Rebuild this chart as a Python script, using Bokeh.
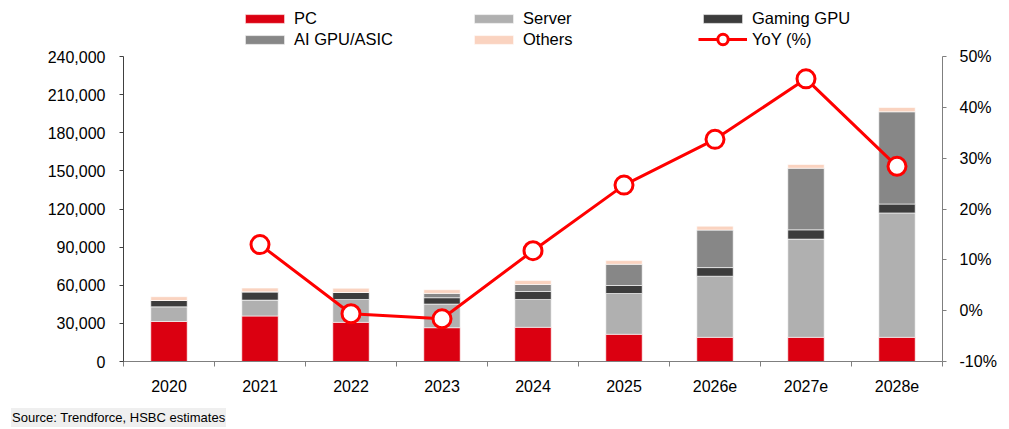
from bokeh.plotting import figure
from bokeh.layouts import column
from bokeh.models import (Range1d, LinearAxis, FixedTicker, PrintfTickFormatter,
                          NumeralTickFormatter, Legend, LegendItem, Div, ColumnDataSource)
from bokeh.embed import file_html
from bokeh.resources import INLINE

# ---- data ----
years = ["2020", "2021", "2022", "2023", "2024", "2025", "2026e", "2027e", "2028e"]
pc = [31500, 35800, 30800, 26600, 26900, 21400, 19000, 19000, 19000]
server = [11500, 12500, 18000, 18600, 21900, 32100, 48100, 77300, 97900]
gaming = [5000, 6500, 5500, 5000, 6300, 6300, 6800, 7300, 7000]
ai_gpu = [0, 0, 0, 3400, 5500, 16700, 29500, 48500, 72600]
others = [3000, 3000, 3400, 2900, 3100, 2900, 3100, 2900, 3400]
yoy = [None, 13.0, -0.6, -1.6, 11.8, 24.7, 33.7, 45.6, 28.4]
left_ticks = [0, 30000, 60000, 90000, 120000, 150000, 180000, 210000, 240000]
right_ticks = [-10, 0, 10, 20, 30, 40, 50]
source_note = "Source: Trendforce, HSBC estimates"

FONT = "Liberation Sans"
colors = ["#DB0011", "#B0B0B0", "#3C3C3C", "#878787", "#FAD3C0"]
names = ["PC", "Server", "Gaming GPU", "AI GPU/ASIC", "Others"]

# layout geometry (pixels)
W = 1005
FR_TOP, FR_BOT = 2, 361          # frame extends up to hold the legend
AX_TOP = 56                      # where the top tick sits
MAIN_H = 399

xpos = [i + 0.5 for i in range(len(years))]
src = ColumnDataSource(dict(x=xpos, pc=pc, server=server, gaming=gaming, ai=ai_gpu, others=others))

# extend ranges so the axes' top ticks sit at AX_TOP while the frame reaches FR_TOP
ext = (FR_BOT - FR_TOP) / (FR_BOT - AX_TOP)
y_end = left_ticks[0] + (left_ticks[-1] - left_ticks[0]) * ext
r_end = right_ticks[0] + (right_ticks[-1] - right_ticks[0]) * ext

p = figure(width=W, height=MAIN_H, output_backend="svg", toolbar_location=None,
           x_range=Range1d(0, len(years)), y_range=Range1d(left_ticks[0], y_end),
           min_border_left=123, min_border_right=W - 942, min_border_top=FR_TOP,
           min_border_bottom=MAIN_H - FR_BOT)
p.outline_line_color = None
p.xgrid.visible = False
p.ygrid.visible = False

bars = p.vbar_stack(["pc", "server", "gaming", "ai", "others"], x="x", width=0.4,
                    color=colors, line_color="white", line_width=0.6, source=src)

p.extra_y_ranges = {"pct": Range1d(right_ticks[0], r_end)}
yx = [xpos[i] for i in range(len(years)) if yoy[i] is not None]
yv = [v for v in yoy if v is not None]
ln = p.line(yx, yv, y_range_name="pct", line_color="#FF0000", line_width=3)
sc = p.scatter(yx, yv, y_range_name="pct", size=18, fill_color="white",
               line_color="#FF0000", line_width=3)

# axes
xa = p.xaxis[0]
xa.ticker = FixedTicker(ticks=xpos, minor_ticks=list(range(len(years) + 1)))
xa.major_label_overrides = {x: y for x, y in zip(xpos, years)}
xa.major_tick_out = 0
xa.major_tick_in = 0
xa.minor_tick_out = 5
xa.minor_tick_in = 0
xa.minor_tick_line_color = "#7f7f7f"
xa.axis_line_color = "#7f7f7f"
xa.major_label_standoff = 13

ya = p.yaxis[0]
ya.ticker = FixedTicker(ticks=left_ticks)
ya.formatter = NumeralTickFormatter(format="0,0")
ya.bounds = (left_ticks[0], left_ticks[-1])
ya.major_tick_out = 4
ya.major_tick_in = 0
ya.minor_tick_line_color = None
ya.axis_line_color = "#404040"
ya.major_tick_line_color = "#404040"
ya.major_label_standoff = 14

ra = LinearAxis(y_range_name="pct", ticker=FixedTicker(ticks=right_ticks),
                formatter=PrintfTickFormatter(format="%d%%"),
                bounds=(right_ticks[0], right_ticks[-1]))
ra.major_tick_out = 4
ra.major_tick_in = 0
ra.minor_tick_line_color = None
ra.axis_line_color = "#7f7f7f"
ra.major_tick_line_color = "#7f7f7f"
ra.major_label_standoff = 13
p.add_layout(ra, "right")

for ax in (xa, ya, ra):
    ax.major_label_text_font = FONT
    ax.major_label_text_font_size = "16px"
    ax.major_label_text_color = "#000000"

# legends inside the extended frame
def mk_legend(items, loc, gh=11):
    return Legend(items=items, orientation="horizontal", location=loc,
                  glyph_width=49, glyph_height=gh, label_width=175, label_standoff=5,
                  spacing=0, padding=0, margin=0, border_line_color=None,
                  background_fill_alpha=0, label_text_font=FONT,
                  label_text_font_size="16.5px", label_text_color="#000000")

row1 = [LegendItem(label=names[i], renderers=[bars[i]]) for i in range(3)]
row2 = [LegendItem(label=names[3], renderers=[bars[3]]),
        LegendItem(label=names[4], renderers=[bars[4]])]
row2b = [LegendItem(label="YoY (%)", renderers=[ln, sc])]
p.add_layout(mk_legend(row1, (117, 333)))
p.add_layout(mk_legend(row2, (117, 312)))
p.add_layout(mk_legend(row2b, (575, 309), gh=26))

note = Div(text=('<span style="display:inline-block; background:#efefef; padding:2px 1px; '
                 'font-family:\'Liberation Sans\'; font-size:13px; line-height:15px; '
                 'color:#000; white-space:nowrap;">' + source_note + '</span>'),
           width=300, height=19, margin=(9, 0, 0, 11))

layout = column(p, note, spacing=0)
open("out.html", "w").write(file_html(layout, INLINE))
